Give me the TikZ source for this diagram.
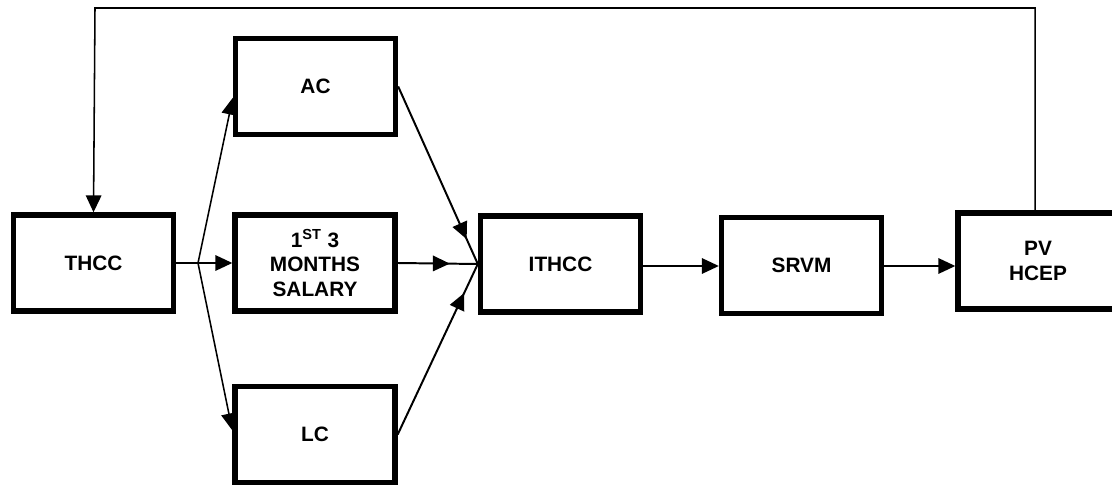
\documentclass[tikz,border=0pt]{standalone}
\usepackage{fontspec}
\setmainfont{Liberation Sans}
\usetikzlibrary{arrows.meta,decorations.markings}

\begin{document}
\begin{tikzpicture}[x=0.025cm,y=-0.025cm,
        box/.style={draw,line width=3.8pt,inner sep=0pt,minimum width=4cm,minimum height=2.4cm,
            align=center,font=\fontsize{14.8}{17.4}\selectfont\bfseries},
        link/.style={line width=1.1pt},
        arr/.style={link,-{Triangle[length=12pt,width=11pt]}},
        tipat/.style={link,line width=1.4pt,postaction={decorate},decoration={markings,
            mark=at position #1 with {\arrow{Triangle[length=12pt,width=11pt]}}}}]
        \useasboundingbox (0,0) rectangle (1112,485);

        % boxes
        \node[box] (THCC) at (93.5,263) {THCC};
        \node[box] (AC) at (315.5,86.5) {AC};
        \node[box] (sal) at (315,263) {1\textsuperscript{ST} 3\\MONTHS\\SALARY};
        \node[box] (LC) at (315,434.5) {LC};
        \node[box] (ITHCC) at (560.5,264) {ITHCC};
        \node[box] (SRVM) at (801.5,265.5) {SRVM};
        \node[box] (PV) at (1038,261) {PV\\HCEP};

        % split to the three costs
        \coordinate (split) at (198,263);
        \draw[link] (THCC.east) -- (split);
        \draw[arr] (split) -- ([yshift=-8pt]AC.west);
        \draw[arr] (split) -- (sal.west);
        \draw[arr] (split) -- ([yshift=3pt]LC.west);

        % merge into ITHCC
        \draw[tipat=0.86] (AC.east) -- (ITHCC.west);
        \draw[tipat=0.65] (sal.east) -- (ITHCC.west);
        \draw[tipat=0.83] (LC.east) -- (ITHCC.west);

        % chain
        \draw[arr] (ITHCC.east |- 0,266) -- (SRVM.west |- 0,266);
        \draw[arr] (SRVM.east |- 0,266) -- (PV.west |- 0,266);

        % feedback
        \coordinate (fb) at (95,8);
        \draw[arr] ([xshift=-2pt]PV.north) |- (fb) -- (THCC.north);
    \end{tikzpicture}
\end{document}
